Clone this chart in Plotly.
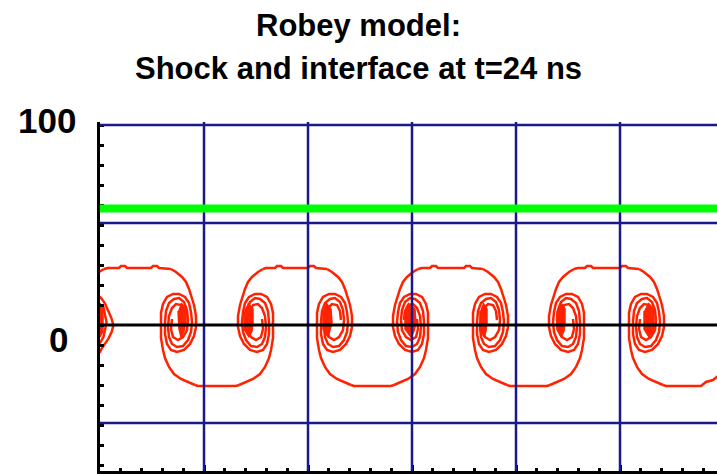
import plotly.graph_objects as go

# ---- interface (shock-tube) data, x and y in the same length units ----
# vertical profile of the two arms of each roll-up (upper arm comes in from the cap,
# lower arm from the trough); every roll-up shares these heights
upper_arm_y = [28, 26.5, 24, 21.5, 18, 14.5, 10, 4.5, -1, -5.5, -9.5, -12.5, -13.5, -12.5,
               -9.5, -4.5, 1.5, 7, 11, 13, 13.5, 11.5, 7.5, 2.5, -2.5, -6, -7.5, -6, -2, 3]
lower_arm_y = [-30, -28.5, -27, -24.5, -21, -16.5, -12.5, -6.5, 0, 6, 10.5, 14, 15.5, 15.5,
               14, 11, 6.5, 1.5, -3.5, -7.5, -10.5, -11, -9.5, -6, -1, 4.5, 8.5, 10.5, 10, 7, 2.5]

# clockwise roll-ups (A, C, E, G)
roll_a_upper_x = [35.5, 38, 41, 43, 44.5, 45.5, 47, 48, 48, 47, 45, 42, 38.5, 35.5, 33.5, 32.5, 32.5,
                  33, 34.5, 37, 39.5, 42, 43.5, 44, 43.5, 41.5, 39, 36.5, 35.5, 36]
roll_a_lower_x = [47.5, 44, 40.5, 37, 34.5, 32.5, 31.5, 30.5, 30.5, 30.5, 31.5, 33.5, 36.5, 39.5, 42.5,
                  44.5, 45.5, 46, 45.5, 44, 41.5, 38.5, 36, 34.5, 34, 34.5, 36, 38, 40.5, 42, 42.5]
roll_c_upper_x = [113.5, 116, 119, 121, 122.5, 123.5, 125, 126, 126, 125, 123, 120, 116.5, 113.5, 111.5,
                  110.5, 110.5, 111, 112.5, 115, 117.5, 120, 121.5, 122, 121.5, 119.5, 117, 114.5, 113.5, 114]
roll_c_lower_x = [125.5, 122, 118.5, 115, 112.5, 110.5, 109.5, 108.5, 108.5, 108.5, 109.5, 111.5, 114.5,
                  117.5, 120.5, 122.5, 123.5, 124, 123.5, 122, 119.5, 116.5, 114, 112.5, 112, 112.5, 114,
                  116, 118.5, 120, 120.5]
roll_e_upper_x = [191.5, 194, 197, 199, 200.5, 201.5, 203, 204, 204, 203, 201, 198, 194.5, 191.5, 189.5,
                  188.5, 188.5, 189, 190.5, 193, 195.5, 198, 199.5, 200, 199.5, 197.5, 195, 192.5, 191.5, 192]
roll_e_lower_x = [203.5, 200, 196.5, 193, 190.5, 188.5, 187.5, 186.5, 186.5, 186.5, 187.5, 189.5, 192.5,
                  195.5, 198.5, 200.5, 201.5, 202, 201.5, 200, 197.5, 194.5, 192, 190.5, 190, 190.5, 192,
                  194, 196.5, 198, 198.5]
roll_g_upper_x = [269.5, 272, 275, 277, 278.5, 279.5, 281, 282, 282, 281, 279, 276, 272.5, 269.5, 267.5,
                  266.5, 266.5, 267, 268.5, 271, 273.5, 276, 277.5, 278, 277.5, 275.5, 273, 270.5, 269.5, 270]
roll_g_lower_x = [281.5, 278, 274.5, 271, 268.5, 266.5, 265.5, 264.5, 264.5, 264.5, 265.5, 267.5, 270.5,
                  273.5, 276.5, 278.5, 279.5, 280, 279.5, 278, 275.5, 272.5, 270, 268.5, 268, 268.5, 270,
                  272, 274.5, 276, 276.5]

# counter-clockwise roll-ups (B, D, F)
roll_b_upper_x = [81.5, 79, 76, 74, 72.5, 71.5, 70, 69, 69, 70, 72, 75, 78.5, 81.5, 83.5, 84.5, 84.5, 84,
                  82.5, 80, 77.5, 75, 73.5, 73, 73.5, 75.5, 78, 80.5, 81.5, 81]
roll_b_lower_x = [69.5, 73, 76.5, 80, 82.5, 84.5, 85.5, 86.5, 86.5, 86.5, 85.5, 83.5, 80.5, 77.5, 74.5,
                  72.5, 71.5, 71, 71.5, 73, 75.5, 78.5, 81, 82.5, 83, 82.5, 81, 79, 76.5, 75, 74.5]
roll_d_upper_x = [159, 156.5, 153.5, 151.5, 150, 149, 147.5, 146.5, 146.5, 147.5, 149.5, 152.5, 156, 159,
                  161, 162, 162, 161.5, 160, 157.5, 155, 152.5, 151, 150.5, 151, 153, 155.5, 158, 159, 158.5]
roll_d_lower_x = [147, 150.5, 154, 157.5, 160, 162, 163, 164, 164, 164, 163, 161, 158, 155, 152, 150, 149,
                  148.5, 149, 150.5, 153, 156, 158.5, 160, 160.5, 160, 158.5, 156.5, 154, 152.5, 152]
roll_f_upper_x = [237, 234.5, 231.5, 229.5, 228, 227, 225.5, 224.5, 224.5, 225.5, 227.5, 230.5, 234, 237,
                  239, 240, 240, 239.5, 238, 235.5, 233, 230.5, 229, 228.5, 229, 231, 233.5, 236, 237, 236.5]
roll_f_lower_x = [225, 228.5, 232, 235.5, 238, 240, 241, 242, 242, 242, 241, 239, 236, 233, 230, 228, 227,
                  226.5, 227, 228.5, 231, 234, 236.5, 238, 238.5, 238, 236.5, 234.5, 232, 230.5, 230]

# half roll-up cut by the left boundary
edge_roll_x = [-2, 0, 0.8, 2.5, 4.2, 5.8, 6.7, 5.8, 4.2, 2.5, 0.8, -1, -4, -5, -4, -1, 0, 1.7, 2.5, 3.3,
               2.5, 1.7, -1]
edge_roll_y = [-14.5, -13.5, -11.8, -9.3, -6.8, -3.5, -0.2, 3.2, 7.3, 10.7, 13.2, 15, 14, 8, -8, -10, -9,
               -6, -2.5, 1.5, 5, 9, 11]
edge_arm_x = [2, -0.5, -3.5, -6]
edge_arm_y = [28, 26.5, 24, 20]

# caps (interface crests) between roll-up pairs
cap_y = [28, 28.5, 28.5, 29.5, 29.5, 28.5, 28.5, 29.5, 29.5, 28.5, 28]
cap_1_x = [2, 4, 9.5, 10.5, 12.5, 13.5, 25.5, 26.5, 28.5, 29.5, 35.5]
cap_2_x = [81.5, 83, 87.5, 88.5, 90.5, 91.5, 104, 105, 107, 108, 113.5]
cap_3_x = [159, 161, 165, 166, 168, 169, 182, 183, 185, 186, 191.5]
cap_4_x = [237, 239, 242.5, 243.5, 245.5, 246.5, 260, 261, 263, 264, 269.5]

# troughs (interface valleys)
trough_y = [-30, -30.5, -30.5, -30]
trough_1_x = [47.5, 49, 68, 69.5]
trough_2_x = [125.5, 127, 145.5, 147]
trough_3_x = [203.5, 205, 223.5, 225]
trough_4_x = [281.5, 283, 300.5, 303, 306.5, 309]
trough_4_y = [-30, -30.5, -30.5, -28.5, -27.5, -25.5]

# dense cores of the roll-ups
core_y = [11, 8, 1, -3, -6, -2, 7]
core_edge_x = [0, 1.5, 1.5, 1.5, 0, -1, -1]
core_a_x = [40.5, 43, 43, 42, 40.5, 39.5, 39]
core_b_x = [74, 76.5, 76.5, 76, 74.5, 72, 72]
core_c_x = [113, 115.5, 116, 115, 114, 111.5, 111.5]
core_d_x = [154, 157.5, 158, 157, 155.5, 152.5, 152.5]
core_e_x = [191.5, 193.5, 193.5, 193, 192, 190, 190]
core_f_x = [230.5, 232.5, 232.5, 232, 230.5, 228.5, 228.5]
core_g_x = [274, 277, 277, 276.5, 274.5, 272, 272]

shock_y = 58.3                     # transmitted shock position
interface_grid_y = [100, 51, -49]  # horizontal reference lines
vertical_grid_x = [52, 104, 156, 208, 260]

RED = "#ff2200"
NAVY = "#1a1a8c"
FONT = "Liberation Sans, Arial, Helvetica, sans-serif"

fig = go.Figure()


def add_curve(x, y, width=2.5):
    fig.add_trace(go.Scatter(x=x, y=y, mode="lines", line=dict(color=RED, width=width),
                             hoverinfo="skip", showlegend=False))


def add_core(x, y):
    fig.add_trace(go.Scatter(x=x, y=y, mode="lines", fill="toself", fillcolor=RED,
                             line=dict(color=RED, width=1.5), hoverinfo="skip", showlegend=False))


for xs in [roll_a_upper_x, roll_b_upper_x, roll_c_upper_x, roll_d_upper_x,
           roll_e_upper_x, roll_f_upper_x, roll_g_upper_x]:
    add_curve(xs, upper_arm_y)
for xs in [roll_a_lower_x, roll_b_lower_x, roll_c_lower_x, roll_d_lower_x,
           roll_e_lower_x, roll_f_lower_x, roll_g_lower_x]:
    add_curve(xs, lower_arm_y)
add_curve(edge_roll_x, edge_roll_y)
add_curve(edge_arm_x, edge_arm_y)
for xs in [cap_1_x, cap_2_x, cap_3_x, cap_4_x]:
    add_curve(xs, cap_y)
for xs in [trough_1_x, trough_2_x, trough_3_x]:
    add_curve(xs, trough_y)
add_curve(trough_4_x, trough_4_y)
for xs in [core_edge_x, core_a_x, core_b_x, core_c_x, core_d_x, core_e_x, core_f_x, core_g_x]:
    add_core(xs, core_y)

shapes = []
for gx in vertical_grid_x:
    shapes.append(dict(type="line", xref="x", yref="paper", x0=gx, x1=gx, y0=0, y1=1,
                       line=dict(color=NAVY, width=2.5), layer="above"))
for gy in interface_grid_y:
    shapes.append(dict(type="line", xref="paper", yref="y", x0=0, x1=1, y0=gy, y1=gy,
                       line=dict(color=NAVY, width=2.5), layer="above"))
shapes.append(dict(type="line", xref="paper", yref="y", x0=0, x1=1, y0=0, y1=0,
                   line=dict(color="black", width=3), layer="above"))
shapes.append(dict(type="line", xref="paper", yref="y", x0=0, x1=1, y0=shock_y, y1=shock_y,
                   line=dict(color="#00ff00", width=8), layer="above"))

annotations = [
    dict(text="Robey model:", xref="paper", yref="paper", x=0.419, y=1.276,
         xanchor="center", yanchor="middle", showarrow=False,
         font=dict(family=FONT, size=31, color="black", weight="bold")),
    dict(text="Shock and interface at t=24 ns", xref="paper", yref="paper", x=0.419, y=1.1527,
         xanchor="center", yanchor="middle", showarrow=False,
         font=dict(family=FONT, size=31, color="black", weight="bold")),
    dict(text="100", xref="paper", yref="paper", x=-0.0851, y=1.0043,
         xanchor="center", yanchor="middle", showarrow=False,
         font=dict(family=FONT, size=35, color="black", weight="bold")),
    dict(text="0", xref="paper", yref="paper", x=-0.0673, y=0.3782,
         xanchor="center", yanchor="middle", showarrow=False,
         font=dict(family=FONT, size=35, color="black", weight="bold")),
]

fig.update_layout(
    width=717, height=474,
    margin=dict(l=100, r=0, t=122, b=3, pad=0),
    paper_bgcolor="white", plot_bgcolor="white",
    shapes=shapes, annotations=annotations, showlegend=False,
    xaxis=dict(range=[0, 308.5], showgrid=False, zeroline=False, showticklabels=False,
               showline=True, linecolor="black", linewidth=3,
               ticks="inside", tick0=0, dtick=52, ticklen=6, tickwidth=2.5, tickcolor="black",
               minor=dict(tick0=0, dtick=10.4, ticks="inside", ticklen=3, tickwidth=2.5,
                          tickcolor="black", showgrid=False),
               layer="above traces", fixedrange=True),
    yaxis=dict(range=[-73, 101.5], showgrid=False, zeroline=False, showticklabels=False,
               showline=True, linecolor="black", linewidth=3,
               ticks="inside", tick0=0, dtick=10, ticklen=4, tickwidth=2.5, tickcolor="black",
               layer="above traces", fixedrange=True),
)

fig.write_html("out.html", config={"displayModeBar": False})
